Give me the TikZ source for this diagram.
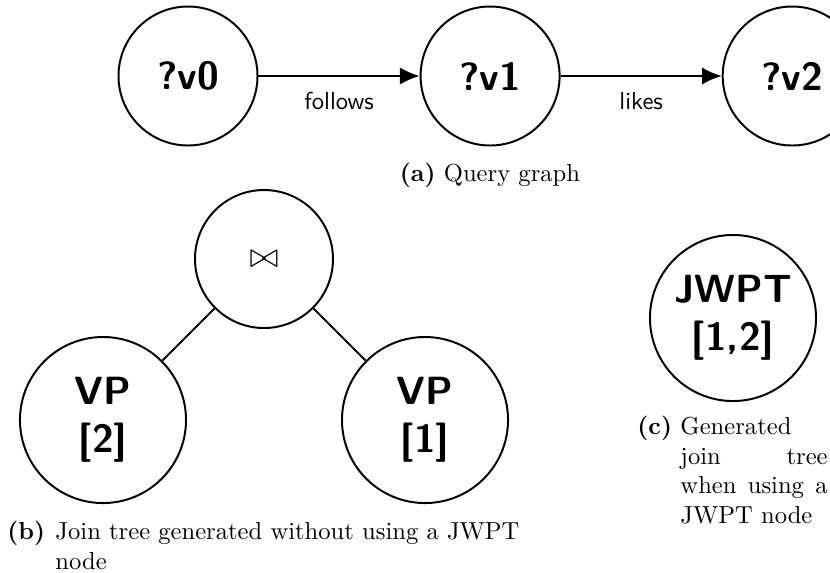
\documentclass[tikz,border=0pt]{standalone}
\usepackage{fontspec}
\usepackage{tikz-qtree}
\usetikzlibrary{arrows.meta, positioning}

\tikzset{
  vertex/.style={circle, draw, thick, minimum size=56.5pt, inner sep=0pt, align=center, font=\sffamily\bfseries\fontsize{16}{19.5}\selectfont},
  bigvertex/.style={vertex, minimum size=67.5pt},
  joinop/.style={circle, draw, thick, minimum size=56.1pt, inner sep=0pt, font=\Large},
  edgelabel/.style={below=3pt, font=\sffamily},
  caplabel/.style={inner sep=0pt, anchor=base west, font=\bfseries},
  captext/.style={inner sep=0pt, anchor=north west, align=left}
}

\begin{document}
\begin{tikzpicture}[x=0.4065pt, y=0.4065pt, >={Latex[length=8pt,width=7pt]}, node distance=122.8pt, on grid]
\clip (0,0) rectangle (830,-572);

% (a) query graph
\node[vertex] (v0) at (188,-76) {?v0};
\node[vertex, right=of v0] (v1) {?v1};
\node[vertex, right=of v1] (v2) {?v2};
\draw[->, thick] (v0) -- node[edgelabel] {follows} (v1);
\draw[->, thick] (v1) -- node[edgelabel] {likes} (v2);
\node[inner sep=0pt, anchor=base] (capa) at (490,-181) {\textbf{(a)} Query graph};

% (b) join tree without JWPT
\begin{scope}[shift={(264,-259)}, sibling distance=62.6pt, level distance=65.45pt]
\tikzset{every tree node/.append style={anchor=center}, every internal node/.style={joinop}, every leaf node/.style={bigvertex}, edge from parent/.append style={thick}, edge from parent path={(\tikzparentnode) -- (\tikzchildnode)}}
\Tree [.\node (J) {$\bowtie$};
  \node (VP2) {VP\\{}[2]};
  \node (VP1) {VP\\{}[1]}; ]
\end{scope}
\node[caplabel] (labb) at (7,-539) {(b)};
\node[captext, text width=190pt] (capb) at (55,-522) {Join tree generated without using a JWPT\\node};

% (c) join tree with JWPT
\node[bigvertex] (jwpt) at (733,-318) {JWPT\\{}[1,2]};
\node[caplabel] (labc) at (637,-434) {(c)};
\node[captext, text width=59.8pt] (capc) at (680,-417) {Generated\\join\hfill tree\\when\hfill using\hfill a\\JWPT node};

\end{tikzpicture}
\end{document}
